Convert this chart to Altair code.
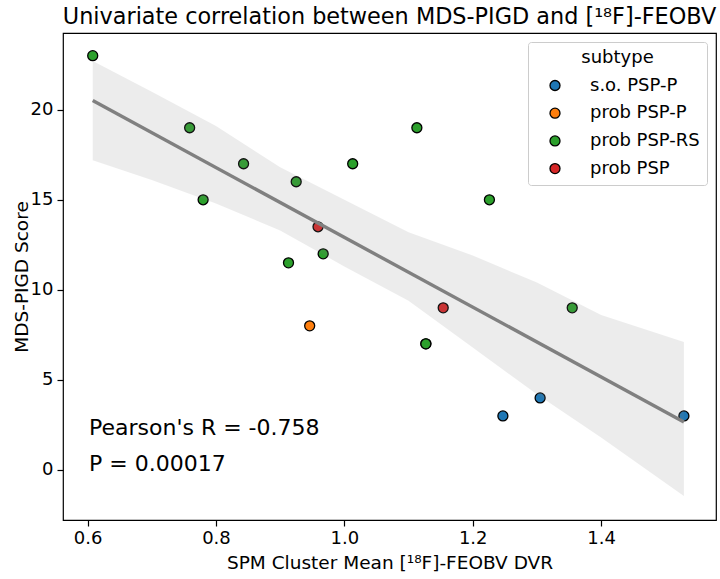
import altair as alt
import pandas as pd

# SPM cluster mean [18F]-FEOBV DVR and MDS-PIGD score per subject
dvr = [0.608, 0.759, 0.843, 0.925, 1.013, 0.780, 0.959, 0.967, 0.913,
       1.113, 1.226, 1.154, 1.355, 1.127, 1.127, 0.946, 1.305, 1.247, 1.529]
pigd = [23, 19, 17, 16, 17, 15, 13.5, 12, 11.5,
        19, 15, 9, 9, 7, 7, 8, 4, 3, 3]
subtype = ["prob PSP-RS", "prob PSP-RS", "prob PSP-RS", "prob PSP-RS", "prob PSP-RS",
           "prob PSP-RS", "prob PSP", "prob PSP-RS", "prob PSP-RS",
           "prob PSP-RS", "prob PSP-RS", "prob PSP", "prob PSP-RS", "prob PSP-RS",
           "prob PSP-RS", "prob PSP-P", "s.o. PSP-P", "s.o. PSP-P", "s.o. PSP-P"]

subtype_order = ["s.o. PSP-P", "prob PSP-P", "prob PSP-RS", "prob PSP"]
subtype_colors = ["#1f77b4", "#ff7f0e", "#2ca02c", "#d62728"]

# 95% confidence band around the regression fit
band_x = [0.608, 0.70, 0.80, 0.90, 1.00, 1.10, 1.20, 1.30, 1.40, 1.529]
band_upper = [22.7, 21.0, 19.1, 16.8, 15.0, 13.2, 11.9, 10.4, 8.6, 7.1]
band_lower = [17.2, 16.1, 14.8, 13.3, 11.3, 9.4, 6.8, 4.2, 1.8, -1.45]

stats_text = ["Pearson's R = -0.758", "P = 0.00017"]

x_ticks = [0.6, 0.8, 1.0, 1.2, 1.4]
y_ticks = [0, 5, 10, 15, 20]

FONT = "DejaVu Sans"

df = pd.DataFrame({"dvr": dvr, "pigd": pigd, "subtype": subtype})
band_df = pd.DataFrame({"dvr": band_x, "upper": band_upper, "lower": band_lower})

x_scale = alt.Scale(domain=[0.5617, 1.579], nice=False, zero=False)
y_scale = alt.Scale(domain=[-2.78, 24.26], nice=False, zero=False)

x_axis = alt.Axis(values=x_ticks, format=".1f", grid=False, domain=False,
                  tickColor="black", tickSize=6, tickWidth=1.2, labelPadding=3,
                  labelFontSize=18, labelFont=FONT, labelColor="black",
                  title="SPM Cluster Mean [¹⁸F]-FEOBV DVR", titleFontSize=18.5,
                  titleFont=FONT, titleFontWeight="normal", titleColor="black",
                  titlePadding=6)
y_axis = alt.Axis(values=y_ticks, format="d", grid=False, domain=False,
                  tickColor="black", tickSize=6, tickWidth=1.2, labelPadding=4,
                  labelFontSize=18, labelFont=FONT, labelColor="black",
                  title="MDS-PIGD Score", titleFontSize=18.5, titleFont=FONT,
                  titleFontWeight="normal", titleColor="black", titlePadding=-1)

legend = alt.Legend(title="subtype", orient="top-right", offset=9, padding=6.5,
                    fillColor="white", strokeColor="#cccccc", cornerRadius=3,
                    titleFontSize=18, titleFont=FONT, titleFontWeight="normal",
                    titleColor="black", titleAnchor="middle", titlePadding=10,
                    labelFontSize=18, labelFont=FONT, labelColor="black",
                    symbolType="circle", symbolSize=100, symbolStrokeColor="black",
                    symbolStrokeWidth=1.3, symbolOpacity=1, rowPadding=9.7,
                    symbolOffset=11.5, labelOffset=26)

points = alt.Chart(df).mark_point(filled=True, opacity=1, size=100,
                                  stroke="black", strokeWidth=1.3).encode(
    x=alt.X("dvr:Q", scale=x_scale, axis=x_axis),
    y=alt.Y("pigd:Q", scale=y_scale, axis=y_axis),
    fill=alt.Fill("subtype:N", sort=subtype_order,
                  scale=alt.Scale(domain=subtype_order, range=subtype_colors),
                  legend=legend),
)

band = alt.Chart(band_df).mark_area(color="gray", opacity=0.15).encode(
    x=alt.X("dvr:Q", scale=x_scale),
    y=alt.Y("upper:Q", scale=y_scale),
    y2="lower:Q",
)

fit = alt.Chart(df).transform_regression("dvr", "pigd").mark_line(
    color="gray", strokeWidth=3.4).encode(
    x=alt.X("dvr:Q", scale=x_scale),
    y=alt.Y("pigd:Q", scale=y_scale),
)

# correlation statistics, one line each, anchored in the lower-left corner
stats_layers = []
for label, ypos in zip(stats_text, [402, 438]):
    stats_layers.append(
        alt.Chart(pd.DataFrame({"label": [label]})).mark_text(
            align="left", baseline="alphabetic", fontSize=22, font=FONT,
            color="black"
        ).encode(x=alt.value(26), y=alt.value(ypos), text="label:N")
    )

chart = alt.layer(points, band, fit, *stats_layers).properties(
    width=653, height=487,
    title=alt.TitleParams("Univariate correlation between MDS-PIGD and [¹⁸F]-FEOBV",
                          fontSize=22.35, font=FONT, fontWeight="normal",
                          color="black", anchor="middle", offset=5),
    autosize=alt.AutoSizeParams(type="none"),
    padding={"left": 63, "top": 33, "right": 4, "bottom": 59},
).configure_view(stroke="black", strokeWidth=1.2)

chart.save("out.html", embed_options={"renderer": "svg", "actions": False})
